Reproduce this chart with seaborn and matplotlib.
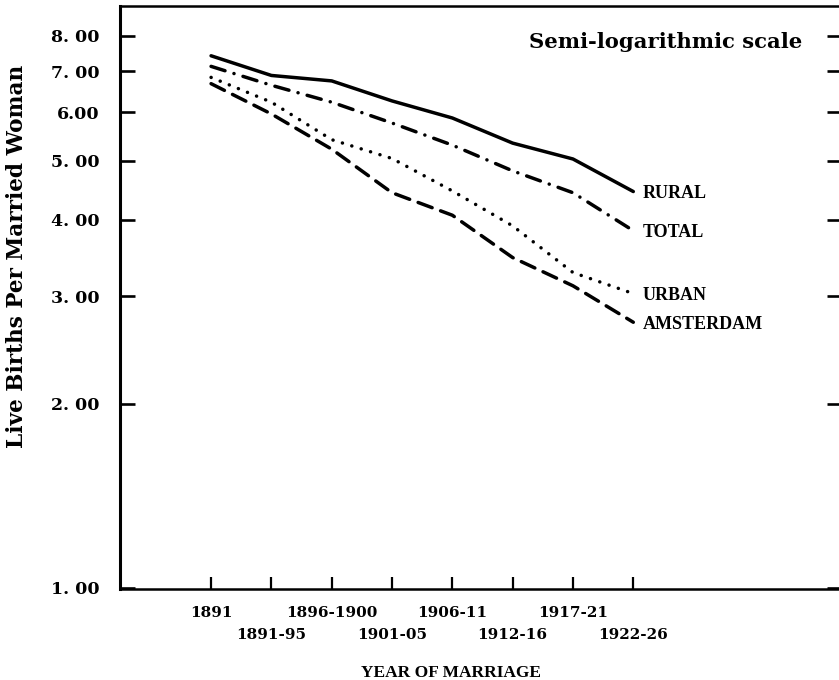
import matplotlib
matplotlib.use("Agg")
import matplotlib.pyplot as plt
import numpy as np
import pandas as pd
import seaborn as sns
from matplotlib.ticker import FixedLocator, NullLocator, FixedFormatter

# Completed family size by marriage cohort (live births per married woman)
periods = ["1891", "1891-95", "1896-1900", "1901-05",
           "1906-11", "1912-16", "1917-21", "1922-26"]
rural = [7.42, 6.89, 6.75, 6.26, 5.87, 5.34, 5.03, 4.45]
total = [7.13, 6.64, 6.23, 5.76, 5.30, 4.81, 4.43, 3.84]
urban = [6.84, 6.23, 5.41, 5.04, 4.46, 3.91, 3.28, 3.03]
amsterdam = [6.68, 5.96, 5.22, 4.43, 4.07, 3.47, 3.12, 2.72]
areas = ["RURAL", "TOTAL", "URBAN", "AMSTERDAM"]
y_ticks = [1, 2, 3, 4, 5, 6, 7, 8]
y_tick_labels = ["1. 00", "2. 00", "3. 00", "4. 00", "5. 00", "6.00", "7. 00", "8. 00"]

df = pd.DataFrame({
    "period": periods * len(areas),
    "births": rural + total + urban + amsterdam,
    "area": np.repeat(areas, len(periods)),
})

sns.set_style("white")
plt.rcParams.update({
    "text.color": "black",
    "axes.labelcolor": "black",
    "xtick.color": "black",
    "ytick.color": "black",
    "axes.edgecolor": "black",
})
SERIF = ["DejaVu Serif"]
LABEL_SERIF = ["Liberation Serif", "DejaVu Serif"]

W, H = 839, 680
fig = plt.figure(figsize=(W / 100, H / 100), dpi=100)
ax = fig.add_axes([120 / W, 1 - 589 / H, (842 - 120) / W, (589 - 6) / H])

dash_map = {
    "RURAL": "",
    "TOTAL": (4.2, 2.7, 0.03, 2.7),
    "URBAN": (0.03, 2.8),
    "AMSTERDAM": (4.3, 2.6),
}
sns.lineplot(data=df, x="period", y="births", hue="area", style="area",
             hue_order=areas, style_order=areas,
             palette={a: "black" for a in areas}, dashes=dash_map,
             linewidth=2.5, sort=False, estimator=None, legend=False, ax=ax)
for line in ax.lines:
    line.set_dash_capstyle("round")
    line.set_solid_capstyle("round")
    line.set_solid_joinstyle("round")

# Semi-logarithmic vertical scale
ax.set_yscale("log")
ax.set_ylim(0.996, 8.95)
ax.set_xlim(-1.51, 10.46)
ax.yaxis.set_major_locator(FixedLocator(y_ticks))
ax.yaxis.set_major_formatter(FixedFormatter(y_tick_labels))
ax.yaxis.set_minor_locator(NullLocator())

ax.set_xticks(range(len(periods)))
ax.set_xticklabels(periods)

ax.tick_params(axis="y", which="major", direction="in", length=11, width=1.9,
               left=True, right=True, labelright=False, pad=14.5)
ax.tick_params(axis="x", which="major", direction="in", length=8.5, width=1.6,
               bottom=True, pad=12.5)
for lab in ax.get_yticklabels():
    lab.set_fontfamily(SERIF)
    lab.set_fontweight("bold")
    lab.set_fontsize(12.5)
for lab in ax.get_xticklabels():
    lab.set_fontfamily(SERIF)
    lab.set_fontweight("bold")
    lab.set_fontsize(11)

# Staggered period labels: every second one sits on a lower row
for i, tick in enumerate(ax.xaxis.get_major_ticks()):
    tick.set_pad(12.5 if i % 2 == 0 else 28)

for side in ["left", "top", "bottom", "right"]:
    ax.spines[side].set_color("black")
ax.spines["left"].set_linewidth(2.2)
ax.spines["bottom"].set_linewidth(1.8)
ax.spines["top"].set_linewidth(1.8)
ax.spines["right"].set_linewidth(1.8)

ax.set_ylabel("Live Births Per Married Woman", fontfamily=SERIF,
              fontweight="bold", fontsize=15.6)
ax.yaxis.label.set_va("center")
ax.yaxis.set_label_coords(-0.1427, 0.571)

ax.set_xlabel("YEAR OF MARRIAGE", fontfamily=LABEL_SERIF,
              fontweight="bold", fontsize=12.5)
ax.xaxis.label.set_va("center")
ax.xaxis.set_label_coords(0.458, -0.144)

ax.text(0.9446, 0.928, "Semi-logarithmic scale", transform=ax.transAxes,
        ha="right", va="baseline", fontfamily=SERIF, fontweight="bold",
        fontsize=15.2)

# Series names at the end of each line
last = len(periods) - 1
for name, vals in zip(areas, [rural, total, urban, amsterdam]):
    ax.annotate(name, xy=(last, vals[-1]), xytext=(6.5, -1.5),
                textcoords="offset points", ha="left", va="center",
                fontfamily=LABEL_SERIF, fontweight="bold", fontsize=13)

fig.savefig("out.png", dpi=100, facecolor="white")
